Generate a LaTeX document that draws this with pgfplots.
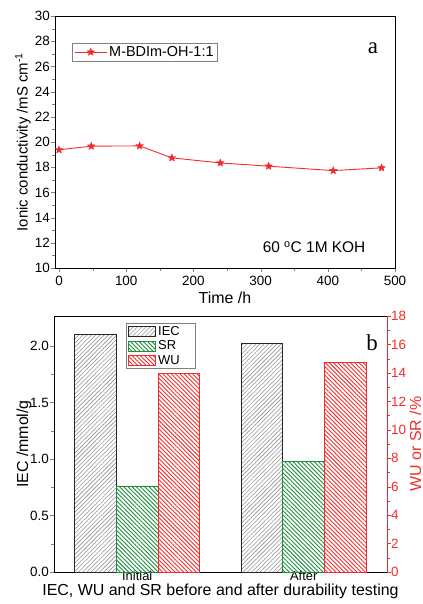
\documentclass[border=0pt]{standalone}
\usepackage{pgfplots}
\pgfplotsset{compat=1.18}
\usepackage{fontspec}
\setmainfont{Liberation Sans}
\newfontfamily\seriff{Liberation Serif}
\usetikzlibrary{patterns.meta}
\definecolor{myred}{RGB}{240,45,45}
\definecolor{mygreen}{RGB}{30,140,60}
\pgfplotsset{mylegimg/.style={legend image code/.code={\draw[##1] (0bp,-5bp) rectangle (27bp,5bp);}},
  mylineleg/.style={legend image code/.code={\draw[mark repeat=2,mark phase=2,##1] plot coordinates {(0bp,0bp) (16bp,0bp) (32bp,0bp)};}}}
\pgfdeclareplotmark{fstar}{%
  \pgfpathmoveto{\pgfpointpolar{90}{\pgfplotmarksize}}%
  \pgfpathlineto{\pgfpointpolar{126}{0.45\pgfplotmarksize}}%
  \pgfpathlineto{\pgfpointpolar{162}{\pgfplotmarksize}}%
  \pgfpathlineto{\pgfpointpolar{198}{0.45\pgfplotmarksize}}%
  \pgfpathlineto{\pgfpointpolar{234}{\pgfplotmarksize}}%
  \pgfpathlineto{\pgfpointpolar{270}{0.45\pgfplotmarksize}}%
  \pgfpathlineto{\pgfpointpolar{306}{\pgfplotmarksize}}%
  \pgfpathlineto{\pgfpointpolar{342}{0.45\pgfplotmarksize}}%
  \pgfpathlineto{\pgfpointpolar{18}{\pgfplotmarksize}}%
  \pgfpathlineto{\pgfpointpolar{54}{0.45\pgfplotmarksize}}%
  \pgfpathclose\pgfusepathqfillstroke}
\begin{document}
\begin{tikzpicture}
\useasboundingbox (0,0) rectangle (423bp,-604bp);
\pgfplotsset{every axis/.append style={scale only axis,
  /pgf/number format/assume math mode=true,
  tick label style={font=\fontsize{13.5}{15}\selectfont},
  label style={font=\fontsize{16}{18}\selectfont},
  tick align=outside, major tick length=4bp, minor tick length=2.5bp,
  line width=0.7pt}}
% ---------- panel a ----------
\begin{axis}[at={(55bp,-16bp)}, anchor=north west, width=340bp, height=252bp,
  xmin=-6, xmax=500, ymin=10, ymax=30,
  xtick={0,100,...,500}, ytick={10,12,...,30},
  minor x tick num=1, minor y tick num=1, tick pos=left,
  yticklabel style={xshift=2.5bp},
  xlabel={Time /h},
  xlabel style={at={(rel axis cs:0.5,-0.139)}, anchor=base},
  ylabel={Ionic conductivity /mS cm\textsuperscript{-1}},
  ylabel style={at={(rel axis cs:-0.094,0.5)}, anchor=center, font=\fontsize{15}{17}\selectfont},
  legend style={at={(0.05,0.893)}, anchor=north west, draw=gray,
    inner xsep=2pt, inner ysep=1pt},
  legend cell align=left]
\addplot[myred, line width=0.9pt, mark=fstar, mark size=4bp, mark options={fill=myred, line width=0.3pt}, mylineleg]
 coordinates {(0,19.38) (48,19.67) (120,19.69) (168,18.74) (240,18.34) (312,18.08) (408,17.73) (480,17.95)};
\addlegendentry{\fontsize{14.5}{16}\selectfont M-BDIm-OH-1:1}
\node[font=\seriff\fontsize{23}{25}\selectfont, anchor=base] at (rel axis cs:0.935,0.853) {a};
\node[font=\fontsize{15.5}{17}\selectfont, anchor=base] at (rel axis cs:0.762,0.06) {60 \textsuperscript{o}C 1M KOH};
\end{axis}
% ---------- panel b ----------
\begin{axis}[at={(54bp,-316bp)}, anchor=north west, width=333bp, height=256bp,
  xmin=-0.5, xmax=1.5, ymin=0, ymax=2.265,
  xtick={0,1}, xticklabels={Initial,After},
  x tick label style={yshift=8.5bp, font=\fontsize{13}{15}\selectfont},
  ytick={0,0.5,...,2.0},
  yticklabel style={xshift=2.5bp, /pgf/number format/.cd, fixed, fixed zerofill, precision=1},
  minor y tick num=1, ytick pos=left, xtick pos=bottom,
  every x tick/.style={draw=none},
  xlabel={IEC, WU and SR before and after durability testing},
  xlabel style={at={(rel axis cs:0.5,-0.09)}, anchor=base},
  ylabel={IEC /mmol/g}, ylabel style={at={(rel axis cs:-0.09,0.5)}, anchor=center}]
\addplot[ybar, bar width=0.25, bar shift=-0.25, draw=black!85, line width=0.9pt,
  pattern={Lines[angle=45, distance=3pt, line width=0.6pt]}, pattern color=gray!85] coordinates {(0,2.10) (1,2.02)};
\node[font=\seriff\fontsize{23}{25}\selectfont, anchor=base] at (rel axis cs:0.955,0.867) {b};
\end{axis}
\begin{axis}[at={(54bp,-316bp)}, anchor=north west, width=333bp, height=256bp,
  xmin=-0.5, xmax=1.5, ymin=0, ymax=18,
  axis x line=none, axis y line*=right,
  ytick={0,2,...,18}, minor y tick num=1,
  y axis line style={myred}, every tick/.append style={myred},
  yticklabel style={myred, xshift=-3.5bp},
  ylabel={WU or SR /\%}, ylabel style={myred, at={(rel axis cs:1.085,0.5)}, anchor=center},
  legend style={at={(0.216,0.973)}, anchor=north west, draw=gray,
    inner xsep=2pt, inner ysep=1pt, row sep=0pt},
  legend cell align=left]
\addlegendimage{area legend, draw=black!85, line width=0.8pt, pattern={Lines[angle=45, distance=3pt, line width=0.6pt]}, pattern color=gray!85, mylegimg}
\addlegendentry{\fontsize{13}{15}\selectfont IEC\hspace*{12bp}}
\addplot[ybar, bar width=0.25, bar shift=0, draw=mygreen, line width=0.9pt,
  pattern={Lines[angle=-45, distance=3pt, line width=0.9pt]}, pattern color=mygreen, mylegimg]
  coordinates {(0,6.05) (1,7.8)};
\addlegendentry{\fontsize{13}{15}\selectfont SR}
\addplot[ybar, bar width=0.25, bar shift=0.25, draw=myred, line width=0.9pt,
  pattern={Lines[angle=-45, distance=3pt, line width=0.9pt]}, pattern color=myred, mylegimg]
  coordinates {(0,13.95) (1,14.75)};
\addlegendentry{\fontsize{13}{15}\selectfont WU}
\end{axis}
\end{tikzpicture}
\end{document}
